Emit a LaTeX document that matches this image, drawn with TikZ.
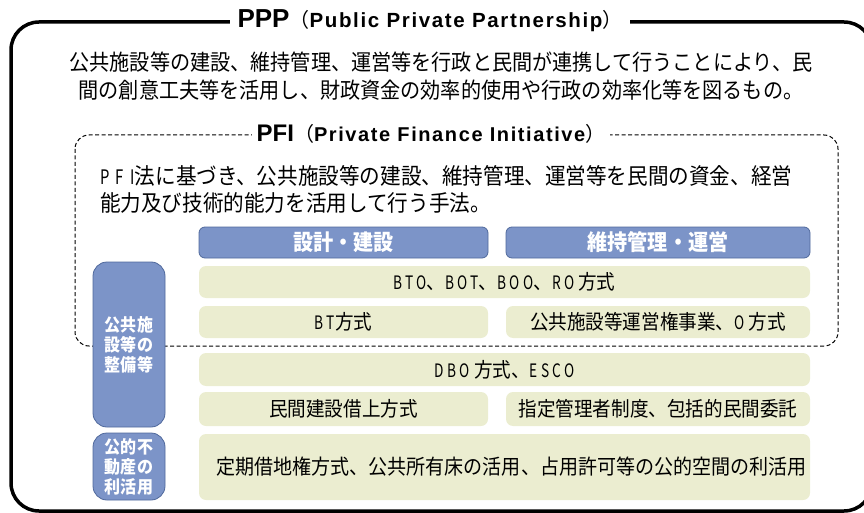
\documentclass[tikz,border=0pt]{standalone}
\usepackage{fontspec}
\setmainfont{Noto Sans CJK JP}[FakeStretch=0.915]
\newfontfamily\lat{Liberation Sans}
\newfontfamily\latsp{Liberation Sans}[LetterSpace=8]
\newfontfamily\jpsp{Noto Sans CJK JP}[LetterSpace=18,FakeStretch=0.74]
\newfontfamily\jpspw{Noto Sans CJK JP}[LetterSpace=32,FakeStretch=0.74]
\newfontfamily\jpfull{Noto Sans CJK JP}
\definecolor{bluef}{HTML}{7C94C8}
\definecolor{blued}{HTML}{50699C}
\definecolor{greenf}{HTML}{EBEDD0}
\newcommand{\fs}[1]{\fontsize{#1}{#1}\selectfont}
\newcommand{\lt}[1]{{\jpsp\fontsize{18.5}{20}\selectfont #1}}
\tikzset{
  hdr/.style={draw=blued, fill=bluef, rounded corners=6pt, line width=0.8pt, text=white, font=\fs{22}\bfseries, inner sep=0pt},
  grn/.style={fill=greenf, rounded corners=7pt, inner sep=0pt, font=\fs{20.3}},
  side/.style={draw=blued, fill=bluef, rounded corners=14pt, line width=0.8pt, text=white, font=\fontsize{17.5}{20}\selectfont\bfseries, align=center, inner sep=0pt},
  ttl/.style={fill=white, inner xsep=8pt, inner ysep=2pt},
}
\begin{document}
\begin{tikzpicture}[x=1pt,y=-1pt]
\useasboundingbox (0,0) rectangle (864,513);
\begin{scope}
\clip (0,0) rectangle (864,513);
\draw[line width=3.5pt, rounded corners=28pt] (11,22) rectangle (872,511);
\end{scope}
\node[ttl] (ppp) at (430,21) {{\lat\bfseries\fs{26}PPP}{\jpfull\fs{20}（}{\latsp\bfseries\fs{20.5}Public Private Partnership}{\jpfull\fs{20}）}};
\node[align=center, font=\fontsize{22}{28}\selectfont] (ppptext) at (441,76)
  {公共施設等の建設、維持管理、運営等を行政と民間が連携して行うことにより、民\\間の創意工夫等を活用し、財政資金の効率的使用や行政の効率化等を図るもの。};
% PFI dashed box
\draw[dash pattern=on 4pt off 2.5pt, line width=1pt, rounded corners=14pt] (75,135) rectangle (838,346);
\node[ttl, inner xsep=5pt] (pfi) at (431,134) {{\lat\bfseries\fs{24}PFI}{\jpfull\fs{20}（}{\latsp\bfseries\fs{20}Private Finance Initiative}{\jpfull\fs{20}）}};
\node[anchor=north west, align=left, inner sep=0pt, font=\fontsize{22.5}{27}\selectfont] (pfitext) at (100,165)
  {{\jpspw\fontsize{20}{27}\selectfont PFI}法に基づき、公共施設等の建設、維持管理、運営等を民間の資金、経営\\能力及び技術的能力を活用して行う手法。};
% headers
\node[hdr, minimum width=289pt, minimum height=31pt] (h1) at (343.5,242.5) {設計・建設};
\node[hdr, minimum width=304pt, minimum height=31pt] (h2) at (658,242.5) {維持管理・運営};
% green rows
\node[grn, minimum width=611pt, minimum height=32pt] (g1) at (504.5,282) {\lt{BTO}、\lt{BOT}、\lt{BOO}、\lt{RO} 方式};
\node[grn, minimum width=289pt, minimum height=32pt] (g2) at (343.5,322) {\lt{BT}方式};
\node[grn, minimum width=304pt, minimum height=32pt] (g3) at (658,322) {公共施設等運営権事業、\lt{O} 方式};
\node[grn, minimum width=611pt, minimum height=33pt] (g4) at (504.5,369.5) {\lt{DBO} 方式、\lt{ESCO}};
\node[grn, minimum width=289pt, minimum height=34pt] (g5) at (343.5,409) {民間建設借上方式};
\node[grn, minimum width=304pt, minimum height=34pt] (g6) at (658,409) {指定管理者制度、包括的民間委託};
\node[grn, minimum width=611pt, minimum height=66pt, font=\fs{20.8}] (g7) at (504.5,467) {\hspace*{14pt}定期借地権方式、公共所有床の活用、占用許可等の公的空間の利活用};
% side boxes
\node[side, minimum width=72pt, minimum height=165pt] (s1) at (129,344.5) {公共施\\設等の\\整備等};
\node[side, minimum width=72pt, minimum height=67pt] (s2) at (129,466.5) {公的不\\動産の\\利活用};
\end{tikzpicture}
\end{document}
